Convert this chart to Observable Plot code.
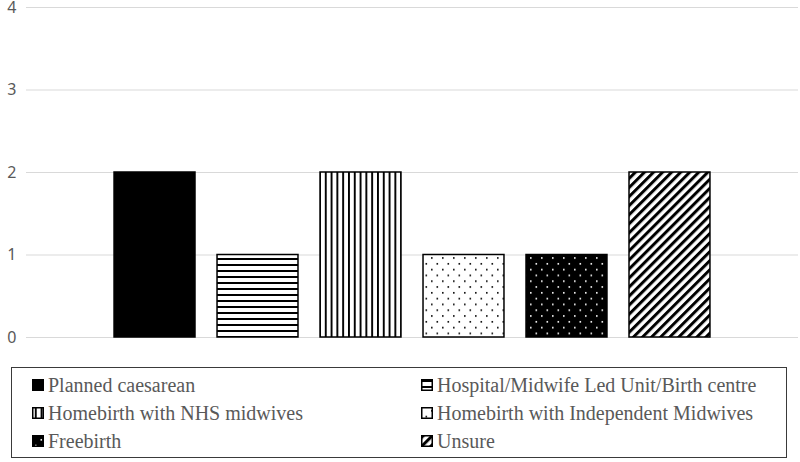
<!DOCTYPE html>
<html>
<head>
<meta charset="utf-8">
<script src="https://cdn.jsdelivr.net/npm/d3@7"></script>
<script src="https://cdn.jsdelivr.net/npm/@observablehq/plot@0.6"></script>
<style>
  html, body { margin: 0; padding: 0; background: #fff; }
  #wrap { position: relative; width: 800px; height: 462px; overflow: hidden; }
  #legend { position: absolute; left: 0; top: 350px; }
</style>
</head>
<body>
<div id="wrap">
  <div id="chart"></div>
  <div id="legend"></div>
</div>
<script>
const categories = [
  "Planned caesarean",
  "Hospital/Midwife Led Unit/Birth centre",
  "Homebirth with NHS midwives",
  "Homebirth with Independent Midwives",
  "Freebirth",
  "Unsure"
];
const values = [2, 1, 2, 1, 1, 2];
const patternIds = ["p-solid", "p-hlines", "p-vlines", "p-dots", "p-bdots", "p-diag"];
const yTicks = [0, 1, 2, 3, 4];

const data = categories.map((c, i) => ({category: c, value: values[i], pattern: patternIds[i]}));

const defsMarkup = `
  <pattern id="p-solid" patternUnits="userSpaceOnUse" width="4" height="4">
    <rect width="4" height="4" fill="#000"/>
  </pattern>
  <pattern id="p-hlines" patternUnits="userSpaceOnUse" width="6" height="6">
    <rect width="6" height="6" fill="#fff"/>
    <rect y="0" width="6" height="2" fill="#000"/>
  </pattern>
  <pattern id="p-vlines" patternUnits="userSpaceOnUse" width="5.8" height="6">
    <rect width="5.8" height="6" fill="#fff"/>
    <rect x="0" width="1.9" height="6" fill="#000"/>
  </pattern>
  <pattern id="p-dots" patternUnits="userSpaceOnUse" width="11" height="11.6">
    <rect width="11" height="11.6" fill="#fff"/>
    <rect x="2" y="2" width="1.6" height="1.6" fill="#000"/>
    <rect x="7.5" y="7.8" width="1.6" height="1.6" fill="#000"/>
  </pattern>
  <pattern id="p-bdots" patternUnits="userSpaceOnUse" width="11" height="11.6">
    <rect width="11" height="11.6" fill="#000"/>
    <rect x="2" y="2" width="1.6" height="1.6" fill="#fff"/>
    <rect x="7.5" y="7.8" width="1.6" height="1.6" fill="#fff"/>
  </pattern>
  <pattern id="p-diag" patternUnits="userSpaceOnUse" width="6.4" height="6.4" patternTransform="rotate(45)">
    <rect width="6.4" height="6.4" fill="#fff"/>
    <rect x="0" width="3" height="6.4" fill="#000"/>
  </pattern>`;

const chart = Plot.plot({
  width: 800,
  height: 350,
  marginTop: 7,
  marginBottom: 13,
  marginLeft: 26,
  marginRight: 2,
  x: {type: "band", domain: categories, range: [92, 732], padding: 0.214, round: false, axis: null},
  y: {domain: [0, 4], axis: null},
  style: {background: "#fff"},
  marks: [
    Plot.ruleY(yTicks, {stroke: "#d9d9d9", strokeWidth: 1.2}),
    Plot.axisY(yTicks, {tickSize: 0, tickPadding: 10, fontSize: 16, fill: "#595959", label: null,
      fontFamily: "Noto Sans, Open Sans, sans-serif", tickFormat: d => String(d)}),
    Plot.barY(data, {x: "category", y: "value", fill: d => `url(#${d.pattern})`,
      stroke: "#000", strokeWidth: 1.5})
  ]
});
d3.select(chart).insert("defs", ":first-child").html(defsMarkup);
document.getElementById("chart").appendChild(chart);

// legend drawn as its own SVG below the chart
const lg = d3.select("#legend").append("svg")
  .attr("width", 800).attr("height", 112).style("display", "block");
lg.append("rect").attr("x", 11.5).attr("y", 17.5).attr("width", 775).attr("height", 90)
  .attr("fill", "#fff").attr("stroke", "#3a3a3a").attr("stroke-width", 1);
const positions = [[32, 35], [421, 35], [32, 63], [421, 63], [32, 91], [421, 91]];
categories.forEach((c, i) => {
  const [px, py] = positions[i];
  lg.append("rect").attr("x", px + 0.75).attr("y", py - 5.25).attr("width", 10.5).attr("height", 10.5)
    .attr("fill", `url(#${patternIds[i]})`).attr("stroke", "#000").attr("stroke-width", 1.5);
  lg.append("text").attr("x", px + 16).attr("y", py).attr("dy", "0.35em")
    .attr("font-family", "Liberation Serif")
    .attr("style", "font-family:'Liberation Serif',serif;font-size:20px")
    .attr("fill", "#595959")
    .text(c);
});
</script>
</body>
</html>
